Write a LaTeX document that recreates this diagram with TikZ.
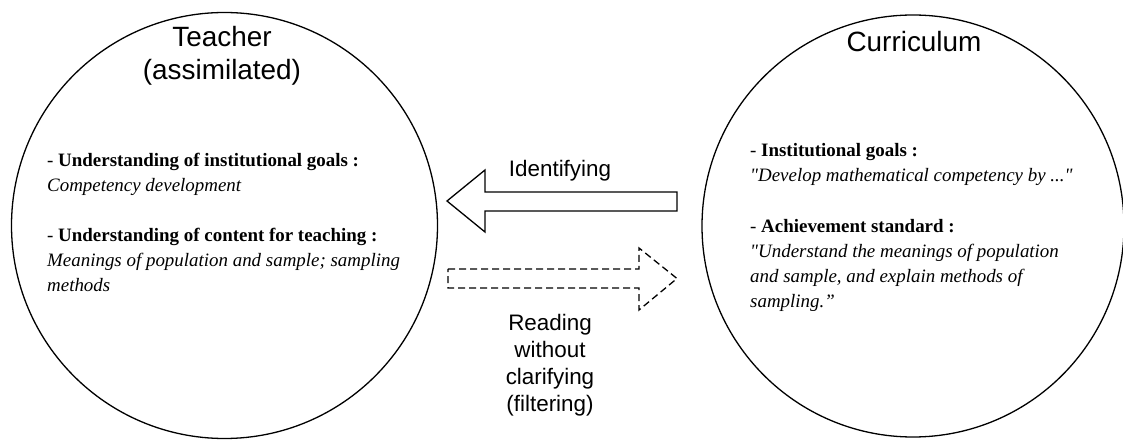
\documentclass[tikz,border=0pt]{standalone}
\usepackage{fontspec}
\setmainfont{Liberation Serif}[Ligatures=TeXOff]
\newfontfamily\titlefont{Liberation Sans}
\begin{document}
\begin{tikzpicture}[x=1bp,y=-1bp,
  circ/.style={circle,draw,line width=1.3bp,minimum size=426bp,inner sep=0pt},
  titletext/.style={font=\titlefont\fontsize{28}{34}\selectfont,anchor=base,inner sep=0pt},
  labeltext/.style={font=\titlefont\fontsize{22.5}{27}\selectfont,anchor=base,inner sep=0pt},
  bodytext/.style={font=\fontsize{19}{25}\selectfont,anchor=base west,inner sep=0pt},
  blockarrow/.style={draw,line width=1.3bp,line join=miter},
  dasharrow/.style={draw,line width=1.3bp,dash pattern=on 7bp off 4bp}]
\useasboundingbox (0,0) rectangle (1123,441);
\node[circ] (teacher) at (224.5,225.5) {};
\node[circ,minimum size=422bp] (curr) at (913,226) {};
% titles
\node[titletext] (t1) at (222,47) {Teacher};
\node[titletext] (t2) at (222,80) {(assimilated)};
\node[titletext] (c1) at (914,52) {Curriculum};
% left body
\node[bodytext] (l1) at (47,167) {- \textbf{Understanding of institutional goals :}};
\node[bodytext] (l2) at (47,192) {\textit{Competency development}};
\node[bodytext] (l3) at (47,242) {- \textbf{Understanding of content for teaching :}};
\node[bodytext] (l4) at (47,267) {\textit{Meanings of population and sample; sampling}};
\node[bodytext] (l5) at (47,292) {\textit{methods}};
% right body
\node[bodytext] (r1) at (750,157) {- \textbf{Institutional goals :}};
\node[bodytext] (r2) at (750,182) {\textit{"Develop mathematical competency by ..."}};
\node[bodytext] (r3) at (750,233) {- \textbf{Achievement standard :}};
\node[bodytext] (r4) at (750,258) {\textit{"Understand the meanings of population}};
\node[bodytext] (r5) at (750,283) {\textit{and sample, and explain methods of}};
\node[bodytext] (r6) at (750,308) {\textit{sampling.”}};
% identifying arrow
\draw[blockarrow] (677,192) -- (485,192) -- (485,170) -- (447,201) -- (485,232) -- (485,211) -- (677,211) -- cycle;
\node[labeltext] (ident) at (560,177) {Identifying};
% dashed arrow
\draw[dasharrow] (448,269) -- (639,269) -- (639,248) -- (677,278.5) -- (639,310) -- (639,288) -- (448,288) -- cycle;
\node[labeltext] (rd1) at (550,331) {Reading};
\node[labeltext] (rd2) at (550,358) {without};
\node[labeltext] (rd3) at (550,385) {clarifying};
\node[labeltext] (rd4) at (550,412) {(filtering)};
\end{tikzpicture}
\end{document}
